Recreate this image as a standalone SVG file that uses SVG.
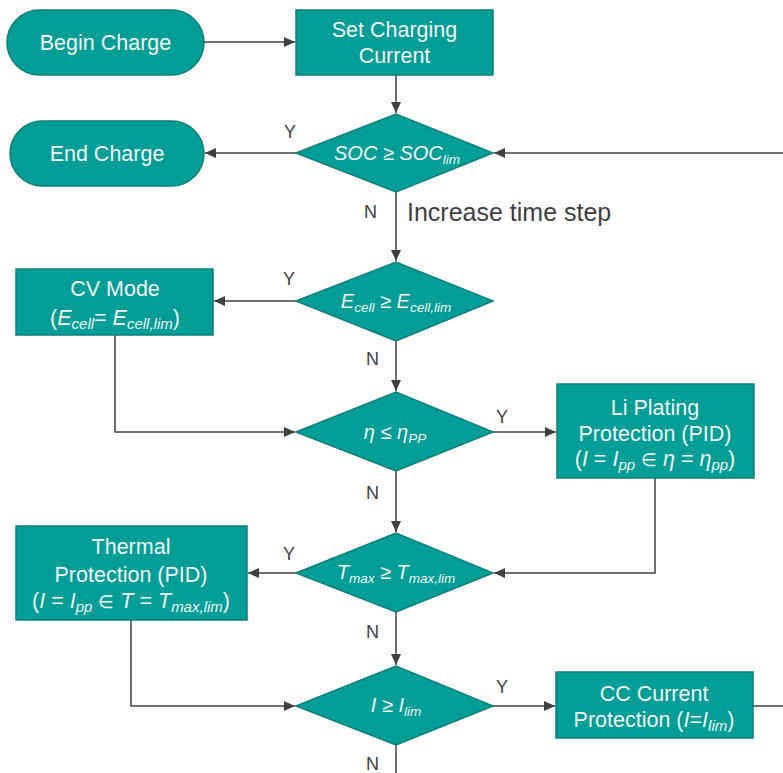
<svg xmlns="http://www.w3.org/2000/svg" width="783" height="773" viewBox="0 0 783 773">
<style>
.node{fill:#009E96;stroke:#0E7E79;stroke-width:1.5}
.t{font-family:"Liberation Sans",Arial,sans-serif;fill:#F4F4F4;font-size:21.5px;text-anchor:middle}
.d{font-size:20px;font-style:italic}
.i{font-style:italic}
.s{font-size:13.5px;font-style:italic}
.b{font-size:15px;font-style:italic}
.el{font-size:18px}
.lbl{font-family:"Liberation Sans",Arial,sans-serif;fill:#404040;font-size:18px}
.big{font-family:"Liberation Sans",Arial,sans-serif;fill:#404040;font-size:25px}
.edge{stroke:#404040;stroke-width:1.5;fill:none;marker-end:url(#ah)}
.line{stroke:#404040;stroke-width:1.5;fill:none}
</style>
<defs>
<marker id="ah" markerUnits="userSpaceOnUse" markerWidth="12" markerHeight="10" refX="11" refY="5" orient="auto">
<path d="M0,0 L11,5 L0,10 z" fill="#404040"/>
</marker>
</defs>
<rect width="783" height="773" fill="#FFFFFF"/>
<g id="connectors">
<path class="edge" d="M204,42 H295"/>
<path class="edge" d="M396,75 V113"/>
<path class="edge" d="M296,153 H205"/>
<path class="edge" d="M783,153 H494"/>
<path class="edge" d="M396,192 V261"/>
<path class="edge" d="M296,301 H214"/>
<path class="edge" d="M396,341 V391"/>
<path class="edge" d="M115,335 V432 H295"/>
<path class="edge" d="M493,432 H556"/>
<path class="edge" d="M655,478 V573 H494"/>
<path class="edge" d="M396,471 V532"/>
<path class="edge" d="M296,573 H248"/>
<path class="edge" d="M131,620 V706 H295"/>
<path class="edge" d="M396,612 V665"/>
<path class="edge" d="M493,706 H555"/>
<path class="line" d="M753,706 H783"/>
<path class="line" d="M396,745 V773"/>
<text class="lbl" x="284" y="138">Y</text>
<text class="lbl" x="364" y="218">N</text>
<text class="big" x="407" y="221">Increase time step</text>
<text class="lbl" x="283" y="285">Y</text>
<text class="lbl" x="366" y="365">N</text>
<text class="lbl" x="496" y="423">Y</text>
<text class="lbl" x="366" y="499">N</text>
<text class="lbl" x="283" y="560">Y</text>
<text class="lbl" x="366" y="638">N</text>
<text class="lbl" x="496" y="693">Y</text>
<text class="lbl" x="366" y="770">N</text>
</g>
<g id="begin">
<rect class="node" x="7" y="10" width="197" height="65" rx="32.5"/>
<text class="t" x="105.5" y="50">Begin Charge</text>
</g>
<g id="set-current">
<rect class="node" x="296" y="10" width="197" height="65"/>
<text class="t" x="394.5" y="37">Set Charging</text>
<text class="t" x="394.5" y="63">Current</text>
</g>
<g id="end">
<rect class="node" x="10" y="121" width="194" height="65" rx="32.5"/>
<text class="t" x="107" y="161">End Charge</text>
</g>
<g id="soc-check">
<polygon class="node" points="296,153 396,114 493,153 396,192"/>
<text class="t d" x="397" y="160">SOC ≥ SOC<tspan class="s" dy="4">lim</tspan></text>
</g>
<g id="ecell-check">
<polygon class="node" points="296,301 396,262 493,301 396,341"/>
<text class="t d" x="396" y="308">E<tspan class="s" dy="4">cell</tspan><tspan dy="-4"> ≥ E</tspan><tspan class="s" dy="4">cell,lim</tspan></text>
</g>
<g id="cv-mode">
<rect class="node" x="16" y="269" width="197" height="66"/>
<text class="t" x="115" y="296">CV Mode</text>
<text class="t" x="115" y="325">(<tspan class="i">E</tspan><tspan class="b" dy="4">cell</tspan><tspan dy="-4">= </tspan><tspan class="i">E</tspan><tspan class="b" dy="4">cell,lim</tspan><tspan dy="-4">)</tspan></text>
</g>
<g id="eta-check">
<polygon class="node" points="296,432 396,392 493,432 396,471"/>
<text class="t d" x="395" y="439">η ≤ η<tspan class="s" dy="4">PP</tspan></text>
</g>
<g id="li-plating">
<rect class="node" x="557" y="384" width="197" height="94"/>
<text class="t" x="655" y="415">Li Plating</text>
<text class="t" x="655" y="441">Protection (PID)</text>
<text class="t" x="655" y="466">(<tspan class="i">I</tspan> = <tspan class="i">I</tspan><tspan class="b" dy="4">pp</tspan><tspan dy="-4"> </tspan><tspan class="el">∈</tspan> <tspan class="i">η</tspan> = <tspan class="i">η</tspan><tspan class="b" dy="4">pp</tspan><tspan dy="-4">)</tspan></text>
</g>
<g id="tmax-check">
<polygon class="node" points="296,573 396,533 493,573 396,612"/>
<text class="t d" x="396" y="579">T<tspan class="s" dy="4">max</tspan><tspan dy="-4"> ≥ T</tspan><tspan class="s" dy="4">max,lim</tspan></text>
</g>
<g id="thermal">
<rect class="node" x="16" y="526" width="231" height="94"/>
<text class="t" x="131" y="554">Thermal</text>
<text class="t" x="131" y="582">Protection (PID)</text>
<text class="t" x="131" y="608">(<tspan class="i">I</tspan> = <tspan class="i">I</tspan><tspan class="b" dy="4">pp</tspan><tspan dy="-4"> </tspan><tspan class="el">∈</tspan> <tspan class="i">T</tspan> = <tspan class="i">T</tspan><tspan class="b" dy="4">max,lim</tspan><tspan dy="-4">)</tspan></text>
</g>
<g id="i-check">
<polygon class="node" points="296,706 396,666 493,706 396,745"/>
<text class="t d" x="396" y="712">I ≥ I<tspan class="s" dy="4">lim</tspan></text>
</g>
<g id="cc-protection">
<rect class="node" x="556" y="672" width="197" height="66"/>
<text class="t" x="654" y="701">CC Current</text>
<text class="t" x="654" y="727">Protection (<tspan class="i">I</tspan>=<tspan class="i">I</tspan><tspan class="b" dy="4">lim</tspan><tspan dy="-4">)</tspan></text>
</g>
</svg>
